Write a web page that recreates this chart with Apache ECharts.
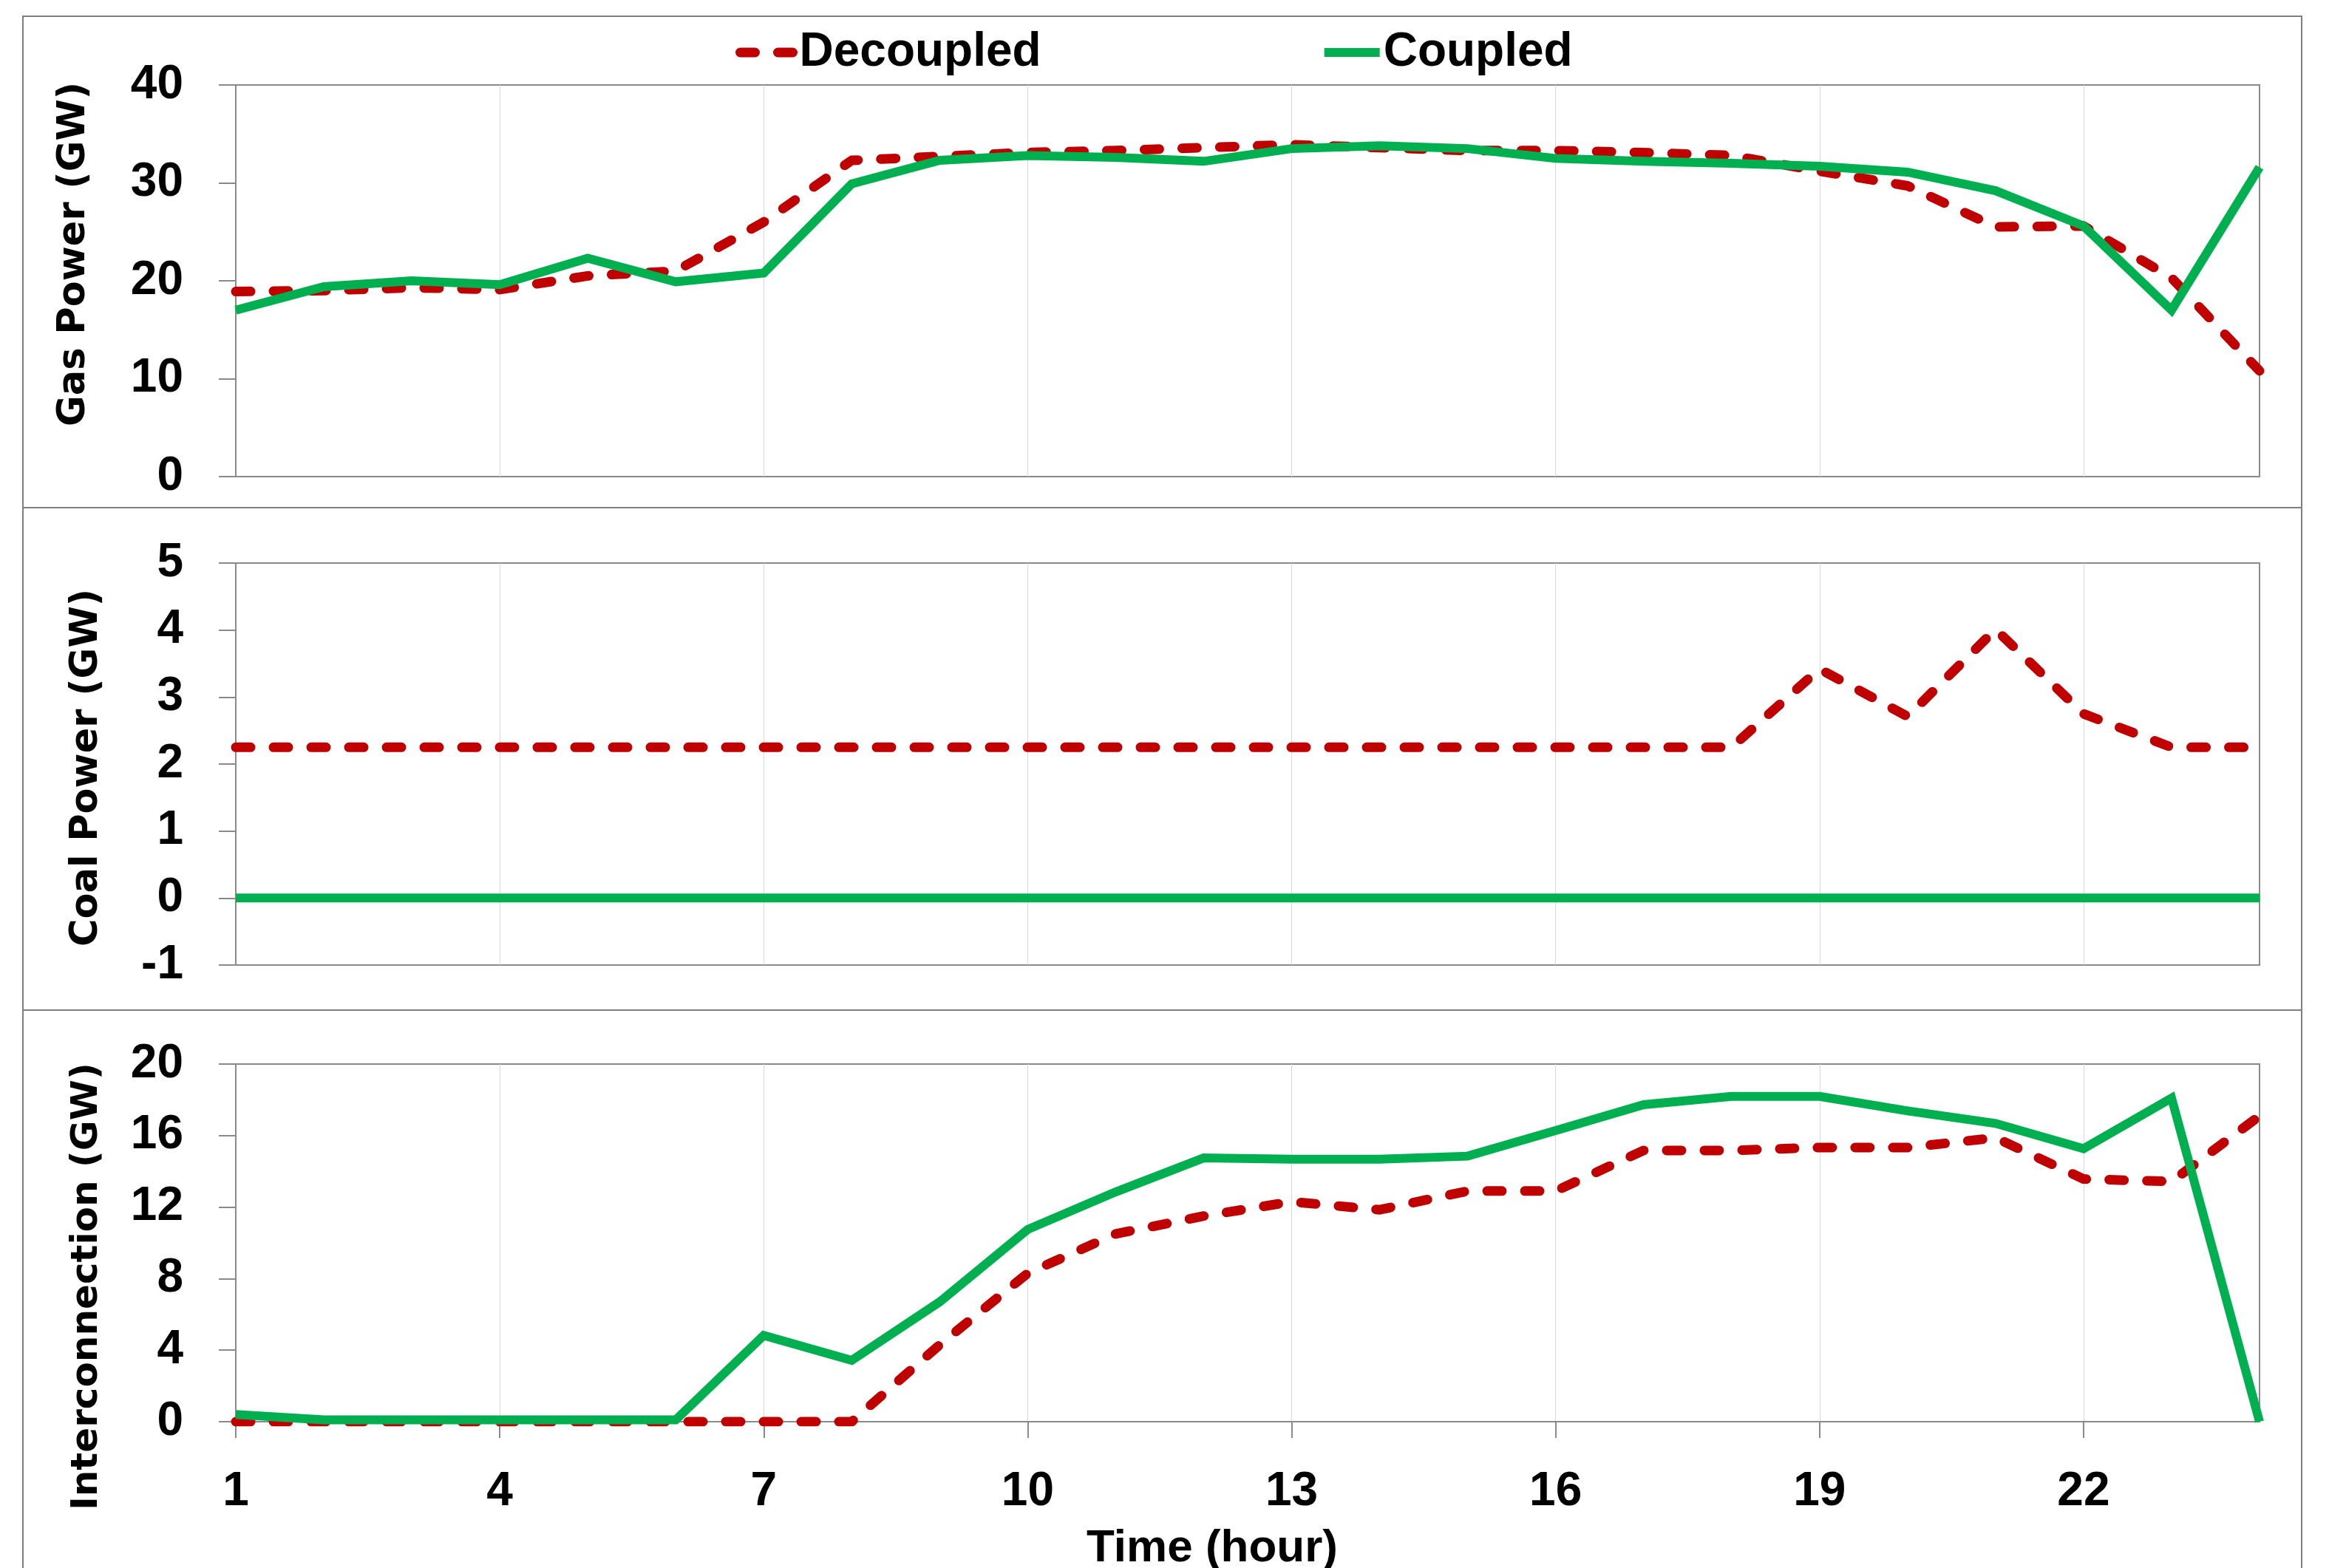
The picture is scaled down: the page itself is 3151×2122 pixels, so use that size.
<!DOCTYPE html>
<html>
<head>
<meta charset="utf-8">
<script src="https://cdn.jsdelivr.net/npm/echarts@6/dist/echarts.min.js"></script>
<style>
html,body{margin:0;padding:0;background:#fff;}
#chart{width:3151px;height:2122px;}
</style>
</head>
<body>
<div id="chart"></div>
<script>
var hours = ['1','2','3','4','5','6','7','8','9','10','11','12','13','14','15','16','17','18','19','20','21','22','23','24'];
var seriesNames = ['Decoupled', 'Coupled'];

var gasDecoupled = [18.9, 19.0, 19.3, 19.1, 20.5, 21.0, 26.0, 32.3, 32.7, 33.1, 33.3, 33.6, 33.9, 33.6, 33.3, 33.3, 33.1, 32.8, 31.2, 29.7, 25.5, 25.6, 20.3, 10.8];
var gasCoupled   = [17.0, 19.4, 20.0, 19.6, 22.3, 19.9, 20.8, 29.9, 32.3, 32.8, 32.6, 32.2, 33.5, 33.8, 33.5, 32.5, 32.2, 32.0, 31.7, 31.1, 29.2, 25.6, 17.0, 31.6];

var coalDecoupled = [2.25, 2.25, 2.25, 2.25, 2.25, 2.25, 2.25, 2.25, 2.25, 2.25, 2.25, 2.25, 2.25, 2.25, 2.25, 2.25, 2.25, 2.25, 3.42, 2.71, 4.01, 2.75, 2.25, 2.25];
var coalCoupled   = [0, 0, 0, 0, 0, 0, 0, 0, 0, 0, 0, 0, 0, 0, 0, 0, 0, 0, 0, 0, 0, 0, 0, 0];

var interDecoupled = [0, 0, 0, 0, 0, 0, 0, 0, 4.3, 8.3, 10.5, 11.5, 12.3, 11.85, 12.9, 12.9, 15.17, 15.17, 15.33, 15.33, 15.88, 13.57, 13.43, 17.1];
var interCoupled   = [0.4, 0.1, 0.1, 0.1, 0.1, 0.1, 4.83, 3.43, 6.7, 10.75, 12.85, 14.75, 14.68, 14.68, 14.85, 16.28, 17.73, 18.19, 18.19, 17.38, 16.68, 15.27, 18.1, 0];

var yTitles = ['Gas Power (GW)', 'Coal Power (GW)', 'Interconnection (GW)'];
var xTitle = 'Time (hour)';

var RED = '#C00000', GREEN = '#00B050';
var FONT = '"Liberation Sans", Arial, sans-serif';
var TFONT = '"DejaVu Sans", Verdana, sans-serif';
var AXC = '#8a8a8a';

var chart = echarts.init(document.getElementById('chart'), null, {renderer: 'canvas'});

function xAxisFor(idx, showLabels) {
  return {
    type: 'category', gridIndex: idx, data: hours, boundaryGap: false,
    axisLine: {show: showLabels, lineStyle: {color: AXC, width: 2}},
    axisTick: {show: showLabels, interval: 2, length: 22, lineStyle: {color: AXC, width: 2}},
    axisLabel: {show: showLabels, interval: 2, margin: 63, fontSize: 64, fontWeight: 'bold', fontFamily: FONT, color: '#000'},
    splitLine: {show: true, interval: 2, lineStyle: {color: '#d9d9d9', width: 1}}
  };
}
function yAxisFor(idx, min, max, interval) {
  return {
    type: 'value', gridIndex: idx, min: min, max: max, interval: interval,
    axisLine: {show: true, lineStyle: {color: AXC, width: 2}},
    axisTick: {show: true, length: 23, lineStyle: {color: AXC, width: 2}},
    axisLabel: {margin: 71, fontSize: 64, fontWeight: 'bold', fontFamily: FONT, color: '#000'},
    splitLine: {show: false}
  };
}
function dashed(name, idx, data) {
  return {
    name: name, type: 'line', xAxisIndex: idx, yAxisIndex: idx, data: data,
    symbol: 'none', showSymbol: false, z: 2,
    lineStyle: {color: RED, width: 13, type: [20, 31], cap: 'round', join: 'round'},
    itemStyle: {color: RED}
  };
}
function solid(name, idx, data) {
  return {
    name: name, type: 'line', xAxisIndex: idx, yAxisIndex: idx, data: data,
    symbol: 'none', showSymbol: false, z: 3,
    lineStyle: {color: GREEN, width: 12, cap: 'butt', join: 'miter'},
    itemStyle: {color: GREEN}
  };
}
function vtitle(text, x, y, size) {
  return {
    type: 'text', x: x, y: y, rotation: Math.PI / 2,
    style: {text: text, x: 0, y: 0, textAlign: 'center', textVerticalAlign: 'middle',
            font: 'bold ' + size + 'px ' + TFONT, fill: '#000'}
  };
}

var option = {
  animation: false,
  backgroundColor: '#fff',
  legend: {
    data: seriesNames, left: 990, top: 34, itemWidth: 75, itemHeight: 24, itemGap: 377,
    lineStyle: {width: 'inherit'},
    itemStyle: {opacity: 0},
    textStyle: {fontSize: 64, fontWeight: 'bold', fontFamily: FONT, color: '#000'}
  },
  grid: [
    {left: 319, right: 94, top: 115, height: 530, show: true, borderColor: AXC, borderWidth: 2, backgroundColor: 'transparent'},
    {left: 319, right: 94, top: 762, height: 544, show: true, borderColor: AXC, borderWidth: 2, backgroundColor: 'transparent'},
    {left: 319, right: 94, top: 1440, height: 484, show: true, borderColor: AXC, borderWidth: 2, backgroundColor: 'transparent'}
  ],
  xAxis: [xAxisFor(0, false), xAxisFor(1, false), xAxisFor(2, true)],
  yAxis: [yAxisFor(0, 0, 40, 10), yAxisFor(1, -1, 5, 1), yAxisFor(2, 0, 20, 4)],
  series: [
    dashed(seriesNames[0], 0, gasDecoupled), solid(seriesNames[1], 0, gasCoupled),
    dashed(seriesNames[0], 1, coalDecoupled), solid(seriesNames[1], 1, coalCoupled),
    dashed(seriesNames[0], 2, interDecoupled), solid(seriesNames[1], 2, interCoupled)
  ],
  graphic: [
    {type: 'rect', z: -10, shape: {x: 31, y: 22, width: 3083, height: 665}, style: {fill: 'none', stroke: '#7f7f7f', lineWidth: 2}},
    {type: 'rect', z: -10, shape: {x: 31, y: 687, width: 3083, height: 680}, style: {fill: 'none', stroke: '#7f7f7f', lineWidth: 2}},
    {type: 'rect', z: -10, shape: {x: 31, y: 1367, width: 3083, height: 800}, style: {fill: 'none', stroke: '#7f7f7f', lineWidth: 2}},
    vtitle(yTitles[0], 101, 344, 51),
    vtitle(yTitles[1], 118, 1039, 51),
    vtitle(yTitles[2], 118, 1741, 50),
    {type: 'text', x: 1640, y: 2096, style: {text: xTitle, x: 0, y: 0, textAlign: 'center', textVerticalAlign: 'middle',
      font: 'bold 62px ' + FONT, fill: '#000'}}
  ]
};
chart.setOption(option);
</script>
</body>
</html>
